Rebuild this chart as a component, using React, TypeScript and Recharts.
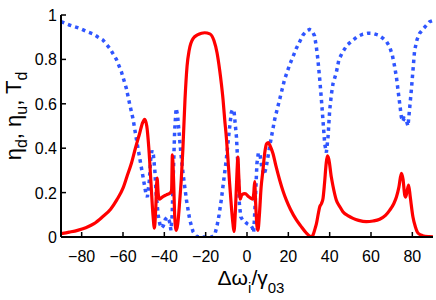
import { Label, Line, LineChart, XAxis, YAxis } from "recharts";

// red solid curve (eta / T_d)
const redX = [
  -90, -86, -82, -78, -74, -70, -66, -63, -60, -58, -56, -54, -52, -50.5, -49.5,
  -48.5, -47.5, -46.5, -45.5, -44.8, -44.2, -43.5, -43, -42.5, -41, -39, -37,
  -36.5, -36.1, -35.5, -35, -34.3, -33.5, -32.5, -31.8, -31, -30, -29, -28, -26,
  -24, -22, -20.5, -18, -16, -14.5, -13.2, -12.4, -11.6, -10.8, -10, -9.2, -8.4,
  -7.5, -6.8, -6.3, -5.6, -4.8, -4.4, -4, -3.3, -2.5, -1, 1, 2.8, 3.3, 3.7, 4.2,
  4.8, 5.3, 6, 6.8, 7.7, 8.6, 9.5, 10.3, 11.2, 12.6, 14, 15.8, 17.5, 19, 21,
  23.9, 26, 28.7, 30.5, 31.2, 32, 33, 33.6, 34.4, 35.2, 36, 36.8, 37.5, 38.3,
  38.9, 39.6, 40.8, 41.6, 43.2, 45, 46.4, 49, 51.3, 54, 57.7, 61, 64.2, 67, 69,
  71, 72.3, 73.5, 74.7, 75.5, 76.3, 76.8, 77.5, 78.2, 79, 80.3, 81.5, 82.8, 85,
  88, 90,
];
const redY = [
  0.015, 0.022, 0.03, 0.042, 0.06, 0.09, 0.125, 0.167, 0.22, 0.275, 0.33, 0.4,
  0.465, 0.515, 0.53, 0.5, 0.4, 0.25, 0.1, 0.04, 0.12, 0.265, 0.2, 0.17, 0.18,
  0.19, 0.2, 0.21, 0.37, 0.25, 0.1, 0.03, 0.06, 0.17, 0.26, 0.4, 0.62, 0.77,
  0.84, 0.895, 0.91, 0.918, 0.92, 0.915, 0.885, 0.83, 0.75, 0.69, 0.62, 0.53,
  0.45, 0.35, 0.24, 0.13, 0.06, 0.025, 0.12, 0.3, 0.36, 0.28, 0.17, 0.19, 0.195,
  0.18, 0.17, 0.2, 0.25, 0.15, 0.05, 0.03, 0.1, 0.22, 0.3, 0.38, 0.42, 0.425,
  0.41, 0.375, 0.32, 0.257, 0.205, 0.167, 0.125, 0.077, 0.05, 0.018, 0.003, 0,
  0.01, 0.04, 0.06, 0.1, 0.136, 0.15, 0.175, 0.24, 0.33, 0.365, 0.35, 0.27,
  0.23, 0.167, 0.135, 0.114, 0.095, 0.084, 0.075, 0.069, 0.072, 0.08, 0.097,
  0.12, 0.15, 0.18, 0.225, 0.287, 0.26, 0.19, 0.18, 0.21, 0.234, 0.18, 0.09,
  0.045, 0.017, 0.006, 0.002, 0.001,
];

// blue dotted curve
const blueX = [
  -90, -86, -81, -77.5, -74.5, -72, -69.7, -66.4, -63.2, -60.8, -58.4, -56.8,
  -55.1, -53.5, -52, -50.3, -49, -48.2, -47.3, -46.6, -46, -45.3, -44.6, -44,
  -43, -42.2, -41.4, -40.5, -39.5, -38.5, -37.5, -36.8, -36.2, -35.6, -35,
  -34.3, -33.6, -32.6, -31.8, -31, -29.3, -27.7, -26.1, -24.5, -23, -17, -15.6,
  -14.5, -13.5, -12.4, -11.2, -10, -8.8, -7.6, -7, -6.2, -5.1, -4.4, -3.7, -3,
  -2, -1, 0, 1, 2, 2.7, 3.2, 3.6, 4.2, 4.8, 5.5, 6.3, 7.2, 8.2, 9.2, 10.3, 11.2,
  13.4, 15.8, 18.2, 20.6, 23.9, 27.1, 29, 30.3, 31.5, 32.7, 33.5, 34.3, 35.2,
  36, 36.8, 37.6, 38.4, 39.2, 40, 40.8, 41.6, 43.2, 44.5, 46.4, 48.5, 51.3,
  53.5, 56.1, 58.5, 61, 63.5, 65.8, 67.5, 69, 70.3, 71.4, 72.3, 73.1, 73.9,
  74.7, 75.3, 76.1, 76.9, 77.9, 78.7, 79.5, 80.3, 81.1, 82.3, 83.5, 85.5, 88.4,
  90,
];
const blueY = [
  0.97, 0.955, 0.94, 0.925, 0.915, 0.9, 0.887, 0.85, 0.8, 0.745, 0.67, 0.6,
  0.53, 0.44, 0.36, 0.27, 0.2, 0.18, 0.25, 0.35, 0.39, 0.37, 0.3, 0.2, 0.1,
  0.06, 0.04, 0.05, 0.08, 0.09, 0.07, 0.03, 0.1, 0.3, 0.48, 0.58, 0.55, 0.44,
  0.36, 0.29, 0.167, 0.077, 0.024, 0.003, 0, 0, 0.01, 0.05, 0.1, 0.17, 0.26,
  0.35, 0.46, 0.56, 0.575, 0.56, 0.45, 0.32, 0.15, 0.09, 0.075, 0.07, 0.06,
  0.055, 0.05, 0.04, 0.02, 0.08, 0.2, 0.33, 0.38, 0.37, 0.31, 0.28, 0.31, 0.37,
  0.42, 0.53, 0.62, 0.71, 0.775, 0.85, 0.91, 0.93, 0.935, 0.93, 0.905, 0.86,
  0.8, 0.71, 0.62, 0.52, 0.42, 0.38, 0.45, 0.57, 0.64, 0.69, 0.74, 0.8, 0.835,
  0.865, 0.887, 0.903, 0.914, 0.918, 0.917, 0.91, 0.895, 0.88, 0.857, 0.82,
  0.77, 0.72, 0.66, 0.6, 0.54, 0.52, 0.535, 0.53, 0.5, 0.58, 0.66, 0.75, 0.84,
  0.89, 0.917, 0.94, 0.97, 0.975,
];

const xTicks = [-80, -60, -40, -20, 0, 20, 40, 60, 80];
const yTicks = [0, 0.2, 0.4, 0.6, 0.8, 1];

const redData = redX.map((x, i) => ({ x, y: redY[i] }));
const blueData = blueX.map((x, i) => ({ x, y: blueY[i] }));

const FONT = "'Liberation Sans', Arial, Helvetica, sans-serif";
const TICK = 5;

function fmtX(v: number) {
  return v < 0 ? "\u2212" + Math.abs(v) : String(v);
}

function fmtY(v: number) {
  return v === 0 || v === 1 ? String(v) : v.toFixed(1);
}

function BottomTick({ x, y, payload }: any) {
  return (
    <g>
      <line x1={x} x2={x} y1={y} y2={y - TICK} stroke="#000" strokeWidth={1.5} />
      <text x={x} y={y + 25} textAnchor="middle" fontSize={16} fontFamily={FONT} fill="#000">
        {fmtX(payload.value)}
      </text>
    </g>
  );
}

function LeftTick({ x, y, payload }: any) {
  return (
    <g>
      <line x1={x} x2={x + TICK} y1={y} y2={y} stroke="#000" strokeWidth={1.5} />
      <text x={x - 4} y={y + 6} textAnchor="end" fontSize={16} fontFamily={FONT} fill="#000">
        {fmtY(payload.value)}
      </text>
    </g>
  );
}

function TopTick({ x, y }: any) {
  return <line x1={x} x2={x} y1={y} y2={y + TICK} stroke="#000" strokeWidth={1.5} />;
}

function RightTick({ x, y }: any) {
  return <line x1={x} x2={x - TICK} y1={y} y2={y} stroke="#000" strokeWidth={1.5} />;
}

export default function App() {
  return (
    <div style={{ position: "absolute", left: 0, top: 0, width: 436, height: 300, background: "#fff" }}>
      <LineChart width={436} height={300} margin={{ top: 15, right: 3, left: 0, bottom: 0 }}>
        <XAxis
          type="number"
          dataKey="x"
          domain={[-90, 90]}
          ticks={xTicks}
          interval={0}
          allowDataOverflow
          height={63}
          tickSize={0}
          tickMargin={0}
          tickLine={false}
          tick={<BottomTick />}
          axisLine={{ stroke: "#000", strokeWidth: 2 }}
        >
          <Label
            content={() => (
              <text x={251} y={285} textAnchor="middle" fontSize={21} fontFamily={FONT} fill="#000">
                {"\u0394\u03c9"}
                <tspan dy={8} fontSize={15}>i</tspan>
                <tspan dy={-8}>{"/\u03b3"}</tspan>
                <tspan dy={8} fontSize={15}>03</tspan>
              </text>
            )}
          />
        </XAxis>
        <XAxis
          xAxisId="top"
          orientation="top"
          type="number"
          dataKey="x"
          domain={[-90, 90]}
          ticks={xTicks}
          interval={0}
          allowDataOverflow
          height={0}
          tickSize={0}
          tickMargin={0}
          tickLine={false}
          tick={<TopTick />}
          axisLine={{ stroke: "#000", strokeWidth: 2 }}
        />
        <YAxis
          type="number"
          domain={[0, 1]}
          ticks={yTicks}
          interval={0}
          allowDataOverflow
          width={61}
          tickSize={0}
          tickMargin={0}
          tickLine={false}
          tick={<LeftTick />}
          axisLine={{ stroke: "#000", strokeWidth: 2 }}
        >
          <Label
            content={() => (
              <text
                x={21}
                y={116}
                transform="rotate(-90 21 116)"
                textAnchor="middle"
                fontSize={22}
                fontFamily={FONT}
                fill="#000"
              >
                {"\u03b7"}
                <tspan dy={6} fontSize={16}>d</tspan>
                <tspan dy={-6}>{", \u03b7"}</tspan>
                <tspan dy={6} fontSize={16}>u</tspan>
                <tspan dy={-6}>{", T"}</tspan>
                <tspan dy={6} fontSize={16}>d</tspan>
              </text>
            )}
          />
        </YAxis>
        <YAxis
          yAxisId="right"
          orientation="right"
          type="number"
          domain={[0, 1]}
          ticks={yTicks}
          interval={0}
          allowDataOverflow
          width={0}
          tickSize={0}
          tickMargin={0}
          tickLine={false}
          tick={<RightTick />}
          axisLine={{ stroke: "#000", strokeWidth: 2 }}
        />
        <Line
          data={blueData}
          dataKey="y"
          type="linear"
          stroke="#2f55ff"
          strokeWidth={3.5}
          strokeDasharray="3.5 4"
          dot={false}
          isAnimationActive={false}
        />
        <Line
          data={redData}
          dataKey="y"
          type="monotone"
          stroke="#ff0000"
          strokeWidth={3.2}
          dot={false}
          isAnimationActive={false}
        />
      </LineChart>
    </div>
  );
}
